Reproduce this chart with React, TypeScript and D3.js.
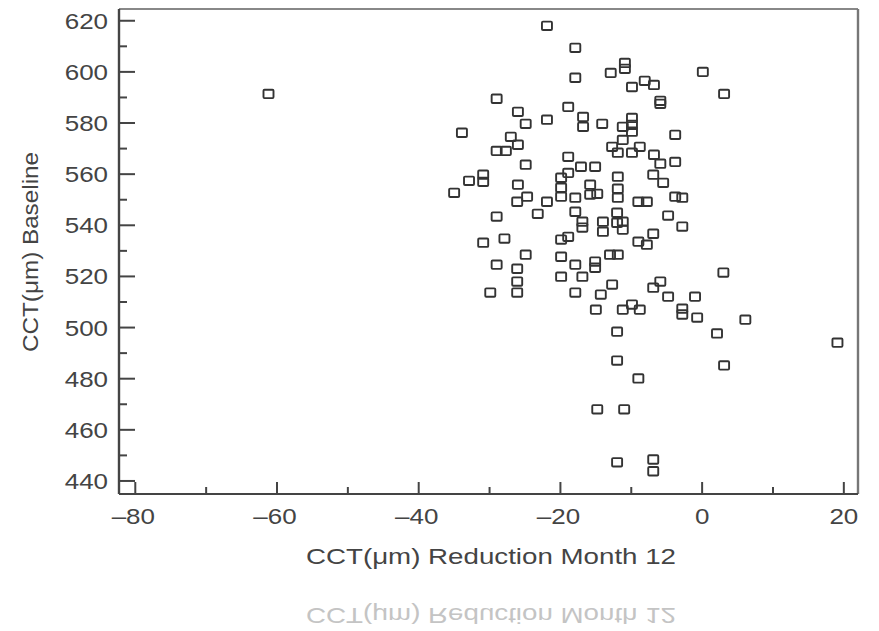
import React from 'react';
import * as d3 from 'd3';

const reductionM12: number[] = [
  -61.2, -21.9, -17.9, -17.9, -10.9, -10.9, -12.9, 0.1, 3.1, -9.9,
  -8.1, -6.8, -5.9, -5.9, -16.8, -16.8, -14.1, -9.9, -9.9, -11.2,
  -9.9, -11.2, -12.7, -11.9, -9.9, -8.8, -6.8, -5.9, -3.8, -3.8,
  -29.0, -26.0, -24.9, -21.9, -18.9, -33.9, -27.0, -26.0, -29.0, -27.7,
  -18.9, -17.1, -15.1, -24.9, -35.0, -32.9, -30.9, -30.9, -26.0, -24.7,
  -26.1, -21.9, -23.2, -29.0, -19.9, -18.9, -19.9, -19.9, -17.9, -15.8,
  -15.8, -14.8, -17.9, -16.9, -16.9, -19.9, -18.9, -27.9, -30.9, -24.9,
  -29.0, -26.1, -26.1, -26.1, -29.9, -19.9, -17.9, -15.1, -15.1, -19.9,
  -16.9, -17.9, -14.3, -15.0, -11.9, -6.9, -5.5, -11.9, -11.9, -9.0,
  -7.8, -3.8, -2.8, -12.0, -4.8, -2.8, -14.0, -14.0, -12.0, -11.2,
  -11.2, -6.9, -9.0, -7.8, -13.0, -11.9, 3.0, -12.7, -5.9, -6.9,
  -4.8, -1.0, -11.2, -9.9, -8.8, -2.8, -2.8, -0.7, 6.1, 2.1,
  19.1, -12.0, -12.0, 3.1, -9.0, -14.8, -11.0, -12.0, -6.9, -6.9,
];

const baselineCCT: number[] = [
  591.4, 618.0, 609.4, 597.7, 603.5, 601.2, 599.6, 600.0, 591.4, 594.1,
  596.5, 594.9, 588.7, 587.5, 582.4, 578.5, 579.7, 582.0, 579.3, 578.5,
  576.6, 573.4, 570.7, 568.4, 568.4, 570.7, 567.6, 564.1, 564.8, 575.4,
  589.5, 584.4, 579.7, 581.3, 586.3, 576.2, 574.6, 571.5, 569.1, 569.1,
  566.8, 562.9, 562.9, 563.7, 552.7, 557.4, 559.8, 557.0, 555.9, 551.2,
  549.2, 549.2, 544.5, 543.4, 558.6, 560.5, 554.7, 551.2, 550.8, 555.9,
  552.0, 552.3, 545.3, 541.4, 539.1, 534.4, 535.5, 534.8, 533.2, 528.5,
  524.6, 523.0, 518.0, 513.7, 513.7, 527.7, 524.6, 525.8, 523.4, 519.9,
  519.9, 513.7, 512.9, 507.0, 559.0, 559.8, 556.6, 554.3, 550.8, 549.2,
  549.2, 551.2, 550.8, 544.9, 543.8, 539.5, 541.4, 537.5, 541.0, 541.4,
  538.3, 536.7, 533.6, 532.4, 528.5, 528.5, 521.5, 516.8, 518.0, 515.6,
  512.1, 512.1, 507.0, 509.0, 507.0, 507.4, 505.1, 503.9, 503.1, 497.7,
  494.1, 498.4, 487.1, 485.2, 480.1, 468.0, 468.0, 447.3, 448.4, 443.8,
];

const xTickValues: number[] = [-80, -60, -40, -20, 0, 20];
const xTickLabels: string[] = ['\u201380', '\u201360', '\u201340', '\u201320', '0', '20'];
const xMinorTicks: number[] = [-70, -50, -30, -10, 10];
const yTickValues: number[] = [440, 460, 480, 500, 520, 540, 560, 580, 600, 620];
const yTickLabels: string[] = ['440', '460', '480', '500', '520', '540', '560', '580', '600', '620'];
const yMinorTicks: number[] = [450, 470, 490, 510, 530, 550, 570, 590, 610];
const xTitle = 'CCT(\u03bcm) Reduction Month 12';
const yTitle = 'CCT(\u03bcm) Baseline';

const W = 879;
const H = 631;
const left = 119;
const right = 858;
const top = 9;
const bottom = 494;

const FONT = '"Liberation Sans", Arial, Helvetica, sans-serif';
const TXT = '#444';
const SX = 1.18;

export default function App() {
  const x = d3.scaleLinear().domain([-82.3, 22.0]).range([left, right]);
  const y = d3.scaleLinear().domain([434.9, 624.6]).range([bottom, top]);
  const pts = reductionM12.map((v, i) => ({ xv: v, yv: baselineCCT[i] }));

  return (
    <svg
      width={W}
      height={H}
      viewBox={`0 0 ${W} ${H}`}
      style={{ position: 'absolute', left: 0, top: 0, background: '#fff' }}
    >
      <rect x={0} y={0} width={W} height={H} fill="#fff" />
      {/* ticks */}
      {xTickValues.map((t) => (
        <line key={'xt' + t} x1={x(t)} x2={x(t)} y1={bottom} y2={bottom - 12} stroke="#444" strokeWidth={2} />
      ))}
      {xMinorTicks.map((t) => (
        <line key={'xm' + t} x1={x(t)} x2={x(t)} y1={bottom} y2={bottom - 7} stroke="#444" strokeWidth={2} />
      ))}
      {yTickValues.map((t) => (
        <line key={'yt' + t} x1={left} x2={left + 16} y1={y(t)} y2={y(t)} stroke="#444" strokeWidth={2} />
      ))}
      {yMinorTicks.map((t) => (
        <line key={'ym' + t} x1={left} x2={left + 8} y1={y(t)} y2={y(t)} stroke="#444" strokeWidth={2} />
      ))}
      {/* frame */}
      <line x1={left} x2={right} y1={top} y2={top} stroke="#888" strokeWidth={2} />
      <line x1={right} x2={right} y1={top} y2={bottom} stroke="#777" strokeWidth={2.4} />
      <line x1={left} x2={left} y1={top} y2={bottom} stroke="#444" strokeWidth={2.4} />
      <line x1={left} x2={right} y1={bottom} y2={bottom} stroke="#444" strokeWidth={2} />
      {/* points */}
      {pts.map((p, i) => (
        <rect
          key={'p' + i}
          x={x(p.xv) - 5}
          y={y(p.yv) - 4.2}
          width={10}
          height={8.4}
          fill="none"
          stroke="#333"
          strokeWidth={1.9}
          rx={1}
        />
      ))}
      {/* y tick labels */}
      {yTickValues.map((t, i) => (
        <text
          key={'yl' + t}
          transform={`translate(108,${y(t) + 8}) scale(${SX},1)`}
          textAnchor="end"
          fontFamily={FONT}
          fontSize={22}
          fill={TXT}
        >
          {yTickLabels[i]}
        </text>
      ))}
      {/* x tick labels */}
      {xTickValues.map((t, i) => (
        <text
          key={'xl' + t}
          transform={`translate(${x(t) - (t < 0 ? 2 : 0)},523.5) scale(${SX},1)`}
          textAnchor="middle"
          fontFamily={FONT}
          fontSize={22}
          fill={TXT}
        >
          {xTickLabels[i]}
        </text>
      ))}
      {/* x title */}
      <text
        x={306}
        y={564}
        textLength={370}
        lengthAdjust="spacingAndGlyphs"
        fontFamily={FONT}
        fontSize={22}
        fill={TXT}
      >
        {xTitle}
      </text>
      {/* mirrored reflection */}
      <g transform="translate(0,608) scale(1,-1)">
        <text
          x={306}
          y={0}
          textLength={370}
          lengthAdjust="spacingAndGlyphs"
          fontFamily={FONT}
          fontSize={22}
          fill="#c4c4c4"
        >
          {xTitle}
        </text>
      </g>
      {/* y title */}
      <g transform="translate(38,252) rotate(-90) scale(1,1.12)">
        <text
          x={-100}
          y={0}
          textLength={200}
          lengthAdjust="spacingAndGlyphs"
          fontFamily={FONT}
          fontSize={20}
          fill={TXT}
        >
          {yTitle}
        </text>
      </g>
    </svg>
  );
}
